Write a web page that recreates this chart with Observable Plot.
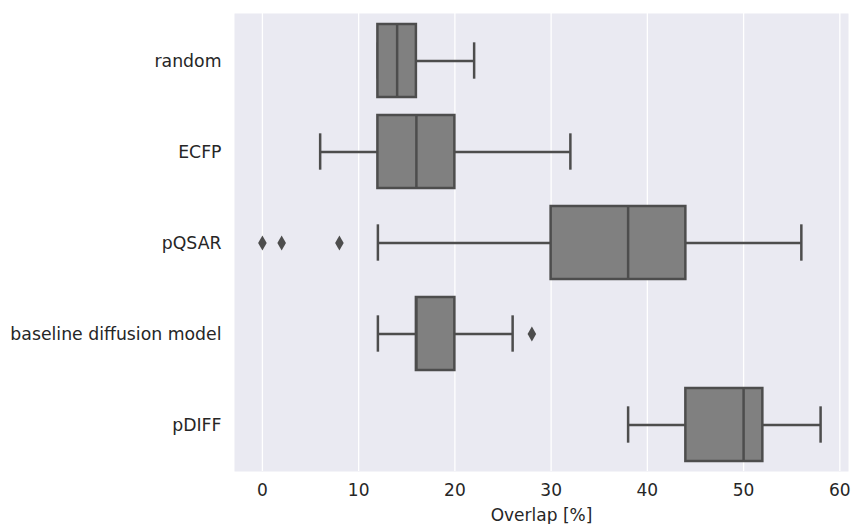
<!DOCTYPE html>
<html>
<head>
<meta charset="utf-8">
<script src="https://cdn.jsdelivr.net/npm/d3@7"></script>
<script src="https://cdn.jsdelivr.net/npm/@observablehq/plot@0.6"></script>
<style>
  html, body { margin: 0; padding: 0; background: #ffffff; }
  #chart { width: 852px; height: 524px; }
</style>
</head>
<body>
<div id="chart"></div>
<script>
const categories   = ["random", "ECFP", "pQSAR", "baseline diffusion model", "pDIFF"];
const whiskerLow   = [12, 6, 12, 12, 38];
const q1           = [12, 12, 30, 16, 44];
const median       = [14, 16, 38, 16, 50];
const q3           = [16, 20, 44, 20, 52];
const whiskerHigh  = [22, 32, 56, 26, 58];
const outlierCats  = ["pQSAR", "pQSAR", "pQSAR", "baseline diffusion model"];
const outlierVals  = [0, 2, 8, 28];
const xTicks       = [0, 10, 20, 30, 40, 50, 60];
const xLabel       = "Overlap [%]";

const boxes = categories.map((c, i) => ({
  cat: c, lo: whiskerLow[i], q1: q1[i], med: median[i], q3: q3[i], hi: whiskerHigh[i]
}));
const outliers = outlierCats.map((c, i) => ({cat: c, v: outlierVals[i]}));

const lineColor = "#4d4d4d";
const H = 524, W = 852;
const mTop = 13, mBottom = 53;
const bandStep = (H - mTop - mBottom) / categories.length;
const capInset = bandStep * 0.8 / 4;

const chart = Plot.plot({
  width: W,
  height: H,
  marginLeft: 234,
  marginRight: 4,
  marginTop: mTop,
  marginBottom: mBottom,
  style: {fontFamily: "DejaVu Sans, sans-serif", fontSize: "17px", color: "#262626", background: "#ffffff"},
  x: {domain: [-2.9, 60.9], ticks: xTicks, label: null},
  y: {domain: categories, paddingInner: 0.2, paddingOuter: 0.1, label: null},
  marks: [
    Plot.frame({fill: "#eaeaf2", stroke: null}),
    Plot.gridX(xTicks, {stroke: "#ffffff", strokeOpacity: 1, strokeWidth: 1.3}),
    Plot.axisX({ticks: xTicks, tickSize: 0, tickPadding: 12, fontSize: 17, label: null}),
    Plot.axisY({tickSize: 0, tickPadding: 13, fontSize: 17.3, label: null}),
    Plot.text([xLabel], {frameAnchor: "bottom", dy: 49, fontSize: 17, fill: "#262626"}),
    Plot.ruleY(boxes, {y: "cat", x1: "lo", x2: "q1", stroke: lineColor, strokeWidth: 2.5}),
    Plot.ruleY(boxes, {y: "cat", x1: "q3", x2: "hi", stroke: lineColor, strokeWidth: 2.5}),
    Plot.tickX(boxes, {y: "cat", x: "lo", stroke: lineColor, strokeWidth: 2.5, insetTop: capInset, insetBottom: capInset}),
    Plot.tickX(boxes, {y: "cat", x: "hi", stroke: lineColor, strokeWidth: 2.5, insetTop: capInset, insetBottom: capInset}),
    Plot.barX(boxes, {y: "cat", x1: "q1", x2: "q3", fill: "#808080", stroke: lineColor, strokeWidth: 2.5}),
    Plot.tickX(boxes, {y: "cat", x: "med", stroke: lineColor, strokeWidth: 2.5}),
    Plot.dot(outliers, {y: "cat", x: "v", symbol: "diamond", r: 4.5, fill: lineColor, stroke: null})
  ]
});
document.getElementById("chart").appendChild(chart);
</script>
</body>
</html>
